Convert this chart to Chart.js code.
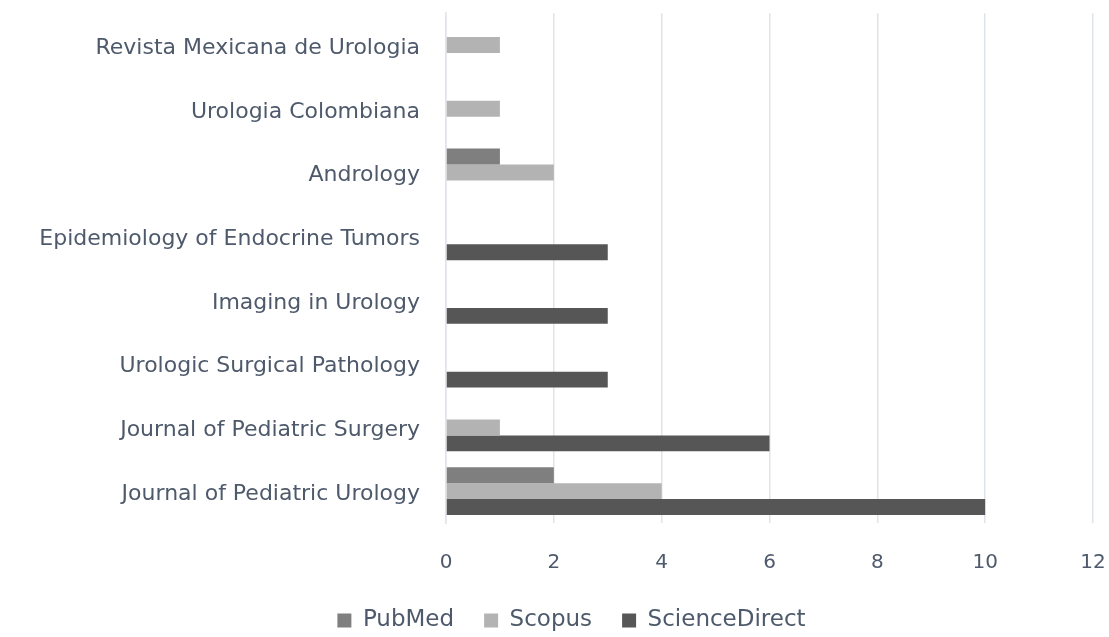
<!DOCTYPE html>
<html>
<head>
<meta charset="utf-8">
<script src="https://cdn.jsdelivr.net/npm/chart.js@4"></script>
<style>
  html, body { margin: 0; padding: 0; background: #ffffff; }
  #wrap { width: 1109px; height: 637px; }
</style>
</head>
<body>
<div id="wrap"><canvas id="journals-chart" width="1109" height="637"></canvas></div>
<script>
const journals = [
  'Revista Mexicana de Urologia',
  'Urologia Colombiana',
  'Andrology',
  'Epidemiology of Endocrine Tumors',
  'Imaging in Urology',
  'Urologic Surgical Pathology',
  'Journal of Pediatric Surgery',
  'Journal of Pediatric Urology',
];
const pubmed = [0, 0, 1, 0, 0, 0, 0, 2];
const scopus = [1, 1, 2, 0, 0, 0, 1, 4];
const scienceDirect = [0, 0, 0, 3, 3, 3, 6, 10];
const xTicks = [0, 2, 4, 6, 8, 10, 12];

const textColor = '#4e5a6b';
const gridColor = '#dfe4ec';
const fontFamily = '"DejaVu Sans", sans-serif';

const chartCanvas = document.getElementById('journals-chart');

// nudge the legend a bit to the right, like in the original
const legendShift = {
  id: 'legendShift',
  afterLayout(chart) {
    chart.legend.left += 25;
    chart.legend.right += 25;
  },
};

new Chart(chartCanvas, {
  type: 'bar',
  data: {
    labels: journals,
    datasets: [
      { label: 'PubMed', data: pubmed, backgroundColor: '#7f7f7f' },
      { label: 'Scopus', data: scopus, backgroundColor: '#b3b3b3' },
      { label: 'ScienceDirect', data: scienceDirect, backgroundColor: '#565656' },
    ],
  },
  options: {
    indexAxis: 'y',
    responsive: false,
    animation: false,
    layout: { padding: { top: 13, right: 16, bottom: -5, left: 0 } },
    datasets: {
      bar: { barPercentage: 1, categoryPercentage: 0.75 },
    },
    scales: {
      x: {
        min: 0,
        max: 12,
        afterBuildTicks: (axis) => {
          axis.ticks = xTicks.map((v) => ({ value: v }));
        },
        afterFit: (axis) => {
          axis.height = 56;
        },
        grid: {
          color: gridColor,
          lineWidth: 1.5,
          drawTicks: true,
          tickLength: 28,
          tickColor: 'transparent',
        },
        border: { display: false },
        ticks: {
          padding: 0,
          color: textColor,
          font: { family: fontFamily, size: 20 },
        },
      },
      y: {
        afterFit: (axis) => {
          axis.width = 446;
        },
        grid: {
          color: 'transparent',
          drawTicks: true,
          tickLength: 26,
          tickColor: 'transparent',
        },
        border: { display: true, color: gridColor, width: 1.5 },
        ticks: {
          padding: 0,
          labelOffset: 3,
          color: textColor,
          font: { family: fontFamily, size: 22 },
        },
      },
    },
    plugins: {
      tooltip: { enabled: false },
      legend: {
        position: 'bottom',
        labels: {
          boxWidth: 14,
          boxHeight: 14,
          padding: 30,
          color: textColor,
          font: { family: fontFamily, size: 23 },
        },
      },
    },
  },
  plugins: [legendShift],
});
</script>
</body>
</html>
